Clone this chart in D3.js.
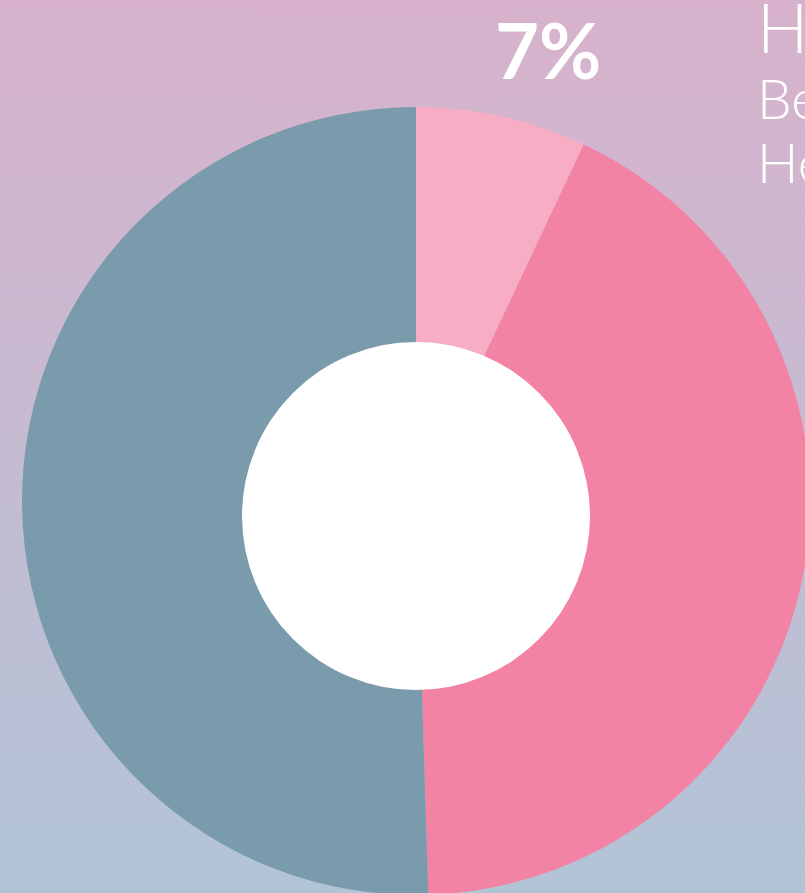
<!DOCTYPE html>
<html>
<head>
<meta charset="utf-8">
<script src="https://cdn.jsdelivr.net/npm/d3@7"></script>
<style>
  html, body { margin: 0; padding: 0; overflow: hidden; }
  svg { display: block; }
</style>
</head>
<body>
<svg id="chart"></svg>
<script>
// data
const categories = ["Highly", "Beneficial", "Harmful"];
const shares = [7, 42.5, 50.5];
const labels = ["7%", "", ""];
const legendLines = ["H", "Be", "He"];

const width = 805, height = 893;
const cx = 416, cy = 501, outerR = 394;
const holeR = 174, holeDy = 15;

const colors = d3.scaleOrdinal()
  .domain(categories)
  .range(["#f7adc3", "#f283a5", "#7a9bac"]);

const svg = d3.select("#chart")
  .attr("width", width)
  .attr("height", height);

const defs = svg.append("defs");
const grad = defs.append("linearGradient")
  .attr("id", "bg")
  .attr("x1", 0).attr("y1", 0).attr("x2", 0).attr("y2", 1);
grad.append("stop").attr("offset", "0%").attr("stop-color", "#d8b2cc");
grad.append("stop").attr("offset", "100%").attr("stop-color", "#b2c4d7");

svg.append("rect")
  .attr("width", width)
  .attr("height", height)
  .attr("fill", "url(#bg)");

const pie = d3.pie().sort(null).value(d => d.v);
const arcs = pie(categories.map((c, i) => ({c: c, v: shares[i], label: labels[i]})));

const arc = d3.arc().innerRadius(0).outerRadius(outerR);
const labelArc = d3.arc().innerRadius(468).outerRadius(468);

const g = svg.append("g")
  .attr("transform", `translate(${cx},${cy})`);

g.selectAll("path")
  .data(arcs)
  .enter().append("path")
  .attr("d", arc)
  .attr("fill", d => colors(d.data.c));

// white hole, sits a little lower than the pie centre
g.append("circle")
  .attr("cx", 0)
  .attr("cy", holeDy)
  .attr("r", holeR)
  .attr("fill", "#ffffff");

g.selectAll("text.pct")
  .data(arcs.filter(d => d.data.label))
  .enter().append("text")
  .attr("class", "pct")
  .attr("x", d => labelArc.centroid(d)[0] + 30)
  .attr("y", d => labelArc.centroid(d)[1] + 35)
  .attr("text-anchor", "middle")
  .attr("font-family", "Lato, 'Open Sans', sans-serif")
  .attr("font-weight", 700)
  .attr("font-size", 76)
  .attr("fill", "#ffffff")
  .text(d => d.data.label);

const legend = svg.append("g")
  .attr("font-family", "Lato, 'Open Sans', sans-serif")
  .attr("font-weight", 300)
  .attr("fill", "#ffffff");

legend.selectAll("text")
  .data(legendLines)
  .enter().append("text")
  .attr("x", 757)
  .attr("y", (d, i) => [53, 119, 183][i])
  .attr("font-size", (d, i) => i === 0 ? 68 : 55)
  .text(d => d);
</script>
</body>
</html>
